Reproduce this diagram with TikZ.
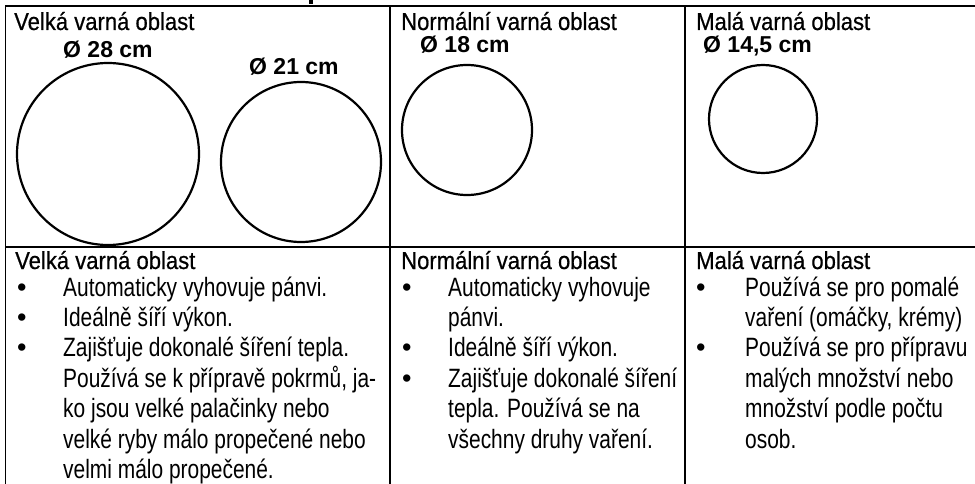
\documentclass[tikz,border=0pt]{standalone}
\usepackage{fontspec}
\setmainfont{Liberation Sans}[FakeStretch=0.79]
\newfontfamily\headfont{Liberation Sans}[FakeStretch=0.9, FakeBold=0.6]
\newfontfamily\plainfont{Liberation Sans}
\newcommand{\bul}{{\plainfont\fontsize{27}{27}\selectfont\textbullet}}

\begin{document}
\begin{tikzpicture}[x=1pt, y=-1pt,
		grid/.style={line width=1.8pt, black},
		plate/.style={draw, circle, line width=2.2pt, inner sep=0pt},
		zonehead/.style={anchor=base west, inner sep=0pt, font=\headfont\fontsize{24.5}{28}\selectfont},
		diam/.style={anchor=base west, inner sep=0pt, font=\plainfont\bfseries\fontsize{23}{26}\selectfont},
		usage/.style={anchor=base west, inner sep=0pt, font=\fontsize{26.5}{30.4}\selectfont}]
	\useasboundingbox (0,0) rectangle (975,484);
	% table lines
	\fill (309,0) rectangle (313,4);
	\draw[grid] (975,6) -| (5.5,484);
	\draw[grid] (5.5,247) -- (975,247);
	\draw[grid] (390,6) -- (390,484);
	\draw[grid] (685,6) -- (685,484);
	% top row: zones
	\node[zonehead] (headA) at (14,30) {Velká varná oblast};
	\node[zonehead] (headB) at (401,30) {Normální varná oblast};
	\node[zonehead] (headC) at (696,30) {Malá varná oblast};
	\node[diam] (sizeA1) at (63,58) {Ø 28 cm};
	\node[diam] (sizeA2) at (249,75) {Ø 21 cm};
	\node[diam] (sizeB) at (420,53) {Ø 18 cm};
	\node[diam] (sizeC) at (703,53) {Ø 14,5 cm};
	\node[plate, minimum size=182pt] (zoneA1) at (108,154) {};
	\node[plate, minimum size=160pt] (zoneA2) at (301,162) {};
	\node[plate, minimum size=130pt] (zoneB) at (467,130) {};
	\node[plate, minimum size=108pt] (zoneC) at (763,119) {};
	% bottom row: usage
	\node[zonehead] (infoheadA) at (15,269) {Velká varná oblast};
	\node[zonehead] (infoheadB) at (401,269) {Normální varná oblast};
	\node[zonehead] (infoheadC) at (696,269) {Malá varná oblast};
	\node[usage] (infoA) at (17,296) {\begin{tabular}[t]{@{}p{46pt}@{}l@{}}
		\bul & Automaticky vyhovuje pánvi.\\
		\bul & Ideálně šíří výkon.\\
		\bul & Zajišťuje dokonalé šíření tepla.\\
		& Používá se k přípravě pokrmů, ja-\\
		& ko jsou velké palačinky nebo\\
		& velké ryby málo propečené nebo\\
		& velmi málo propečené.
	\end{tabular}};
	\node[usage] (infoB) at (402,296) {\begin{tabular}[t]{@{}p{46pt}@{}l@{}}
		\bul & Automaticky vyhovuje\\
		& pánvi.\\
		\bul & Ideálně šíří výkon.\\
		\bul & Zajišťuje dokonalé šíření\\
		& tepla. Používá se na\\
		& všechny druhy vaření.
	\end{tabular}};
	\node[usage] (infoC) at (696,296) {\begin{tabular}[t]{@{}p{49pt}@{}l@{}}
		\bul & Používá se pro pomalé\\
		& vaření (omáčky, krémy)\\
		\bul & Používá se pro přípravu\\
		& malých množství nebo\\
		& množství podle počtu\\
		& osob.
	\end{tabular}};
\end{tikzpicture}
\end{document}
